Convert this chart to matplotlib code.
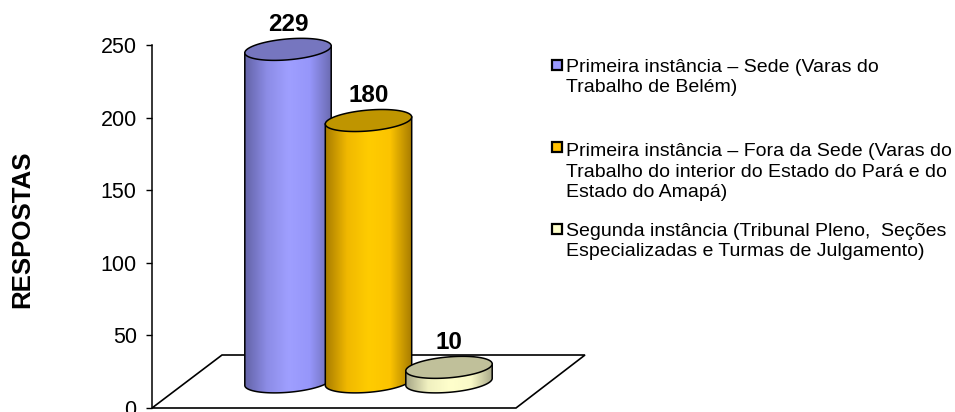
import numpy as np
import matplotlib
matplotlib.use('Agg')
import matplotlib.pyplot as plt
from matplotlib.colors import LinearSegmentedColormap
from matplotlib.patches import Polygon, Rectangle

plt.rcParams['font.family'] = ['Liberation Sans', 'DejaVu Sans']

values = [229, 180, 10]
labels = [
    'Primeira instância – Sede (Varas do\nTrabalho de Belém)',
    'Primeira instância – Fora da Sede (Varas do\nTrabalho do interior do Estado do Pará e do\nEstado do Amapá)',
    'Segunda instância (Tribunal Pleno,  Seções\nEspecializadas e Turmas de Julgamento)',
]
yticks = [0, 50, 100, 150, 200, 250]
ylabel = 'RESPOSTAS'

side_colors = [
    ['#6464a8', '#8c8ce6', '#9f9fff', '#9696fa', '#6a6ab0'],
    ['#a87c00', '#f0b800', '#ffcc00', '#fcc400', '#a87c00'],
    ['#a8a888', '#f0f0c0', '#ffffcc', '#fafac8', '#a8a888'],
]
top_colors = ['#7676bf', '#bf9500', '#c0c09a']
legend_colors = ['#9999ff', '#ffc000', '#ffffcc']
legend_y = [65, 147, 229]
text_y = [77.5, 172, 241.5]

W, H = 955, 412
fig = plt.figure(figsize=(W / 100, H / 100), dpi=100)
ax = fig.add_axes([152 / W, (H - 408) / H, (585 - 152) / W, (408 - 45) / H])
ax.patch.set_visible(False)

# x is in category units, one category is 80.5 px
px = 80.5
ax.set_xlim((152 - 288) / px, (585 - 288) / px)
ax.set_ylim(0, 250)
for s in ['top', 'right', 'bottom']:
    ax.spines[s].set_visible(False)
ax.spines['left'].set_linewidth(1.1)
ax.set_xticks([])
ax.set_yticks(yticks)
ax.tick_params(axis='y', labelsize=15.5, length=4, width=1, pad=7)
for t in ax.get_yticklabels():
    t.set_clip_on(False)

# floor of the 3d box
floor_back = 36.5
floor = Polygon([[(152 - 288) / px, 0], [(222 - 288) / px, floor_back],
                 [(585 - 288) / px, floor_back], [(516 - 288) / px, 0]],
                closed=True, fc='white', ec='black', lw=1.2, clip_on=False, zorder=1)
ax.add_patch(floor)

base = 18
half_w = 43.2 / px
shear = 2.4
half_h = 7.2
t = np.linspace(0, 2 * np.pi, 181)


def ellipse(cx, cy):
    return cx + half_w * np.cos(t), cy + half_h * np.sin(t) + shear * np.cos(t)


for i, v in enumerate(values):
    z = 2 + i
    top = base + v
    xt, yt = ellipse(i, top)
    # lower half of bottom ellipse, right to left
    low = t[90:181]
    xlow = i + half_w * np.cos(low)
    ylow = base + half_h * np.sin(low) + shear * np.cos(low)
    body_x = np.concatenate([[i - half_w], xlow, [i + half_w]])
    body_y = np.concatenate([[top - shear], ylow, [top + shear]])
    body = np.column_stack([body_x, body_y])

    cmap = LinearSegmentedColormap.from_list('side%d' % i, side_colors[i])
    grad = np.linspace(0, 1, 128).reshape(1, -1)
    im = ax.imshow(grad, cmap=cmap, aspect='auto', zorder=z,
                   extent=(i - half_w, i + half_w, base - 12, top + 6))
    clip = Polygon(body, closed=True, transform=ax.transData)
    im.set_clip_path(clip)
    ax.plot(body_x, body_y, color='black', lw=1.1, zorder=z, clip_on=False)
    ax.fill(xt, yt, fc=top_colors[i], ec='black', lw=1.1, zorder=z, clip_on=False)
    ax.annotate(str(v), (i, top), xytext=(0, 18), textcoords='offset points',
                ha='center', va='center', fontsize=17.5, fontweight='bold', zorder=10)

# imshow resets limits
ax.set_xlim((152 - 288) / px, (585 - 288) / px)
ax.set_ylim(0, 250)

fig.text(22 / W, 1 - 229 / H, ylabel, rotation=90, ha='center', va='center',
         fontsize=18.6, fontweight='bold')

for lab, col, ly, ty in zip(labels, legend_colors, legend_y, text_y):
    fig.patches.append(Rectangle((552 / W, 1 - (ly + 5) / H), 10 / W, 10 / H,
                                 transform=fig.transFigure, fc=col, ec='black', lw=1.6))
    fig.text(566 / W, 1 - ty / H, lab, ha='left', va='center', fontsize=14,
             linespacing=1.27)

fig.savefig('out.png', dpi=100)
